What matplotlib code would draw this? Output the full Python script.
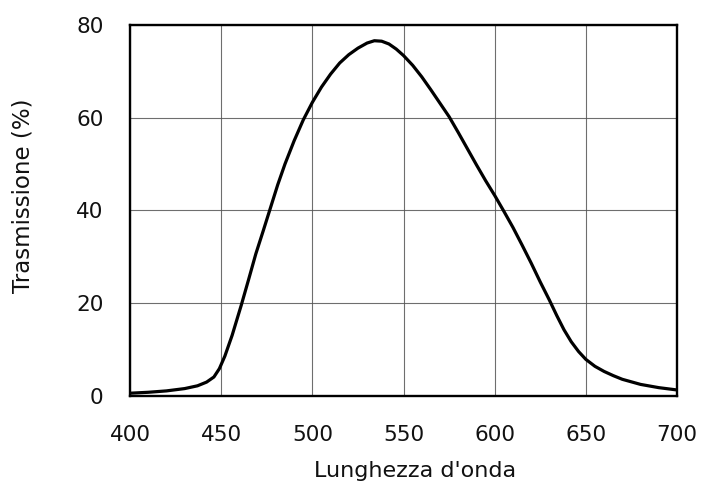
import matplotlib
matplotlib.use("Agg")
import matplotlib.pyplot as plt

# Transmission curve of the filter
wavelength_nm = [400, 410, 420, 430, 437, 442, 446, 449, 452, 456, 461, 465,
                 469, 473, 477, 481, 485, 490, 495, 500, 505, 510, 515, 520,
                 525, 530, 534, 538, 542, 546, 550, 555, 560, 565, 570, 575,
                 580, 585, 590, 595, 600, 605, 610, 615, 620, 625, 630, 634,
                 638, 642, 646, 650, 655, 660, 665, 670, 680, 690, 700]
transmission_pct = [0.5, 0.7, 1.0, 1.5, 2.1, 2.9, 4.0, 5.8, 8.5, 13.0, 19.5, 25.0,
                    30.6, 35.5, 40.5, 45.5, 50.0, 55.0, 59.5, 63.3, 66.6, 69.4, 71.8, 73.6,
                    75.0, 76.1, 76.6, 76.5, 75.9, 74.8, 73.4, 71.3, 68.8, 66.0, 63.1, 60.2,
                    56.8, 53.3, 49.8, 46.4, 43.2, 39.8, 36.3, 32.5, 28.6, 24.5, 20.6, 17.3,
                    14.2, 11.6, 9.5, 7.8, 6.3, 5.2, 4.3, 3.5, 2.4, 1.7, 1.2]

x_ticks = [400, 450, 500, 550, 600, 650, 700]
y_ticks = [0, 20, 40, 60, 80]

plt.rcParams['font.family'] = ['DejaVu Sans']

fig = plt.figure(figsize=(7.04, 4.88), dpi=100)
ax = fig.add_axes([0.1847, 0.1895, 0.7770, 0.7593])

ax.plot(wavelength_nm, transmission_pct, color='black', linewidth=2.3,
        solid_capstyle='round', solid_joinstyle='round', zorder=3)

ax.set_xlim(400, 700)
ax.set_ylim(0, 80)
ax.set_xticks(x_ticks)
ax.set_yticks(y_ticks)
ax.tick_params(axis='both', length=0, labelsize=15.5, colors='#111111')
ax.tick_params(axis='x', pad=21)
ax.tick_params(axis='y', pad=19)

ax.grid(True, color='#555555', linewidth=0.8, alpha=0.85)
ax.set_axisbelow(True)
for side in ax.spines.values():
    side.set_linewidth(1.7)
    side.set_color('black')

fig.text(0.589, 0.022, "Lunghezza d'onda", fontsize=16, color='#111111',
         ha='center', va='baseline')
fig.text(0.033, 0.598, "Trasmissione (%)", fontsize=16.5, color='#111111',
         rotation=90, ha='center', va='center')

fig.savefig('out.png', dpi=100)
